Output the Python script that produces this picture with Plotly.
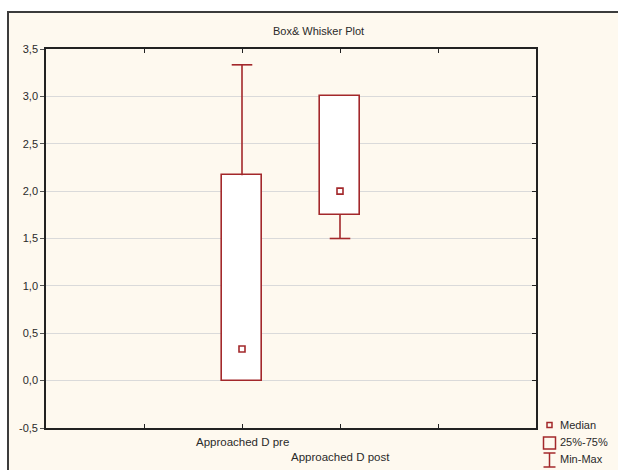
import plotly.graph_objects as go

# ---- data ----
categories = ["Approached D pre", "Approached D post"]
positions = [1, 2]
mins = [0.0, 1.5]
q1s = [0.0, 1.75]
medians = [0.333, 2.0]
q3s = [2.167, 3.0]
maxs = [3.333, 3.0]
ytick_vals = [-0.5, 0.0, 0.5, 1.0, 1.5, 2.0, 2.5, 3.0, 3.5]
ytick_text = ["-0,5", "0,0", "0,5", "1,0", "1,5", "2,0", "2,5", "3,0", "3,5"]
legend_labels = ["Median", "25%-75%", "Min-Max"]
title_text = "Box& Whisker Plot"

RED = "#a3282b"
FONT = "Liberation Sans, Arial, sans-serif"
TXT = "#2a2a2a"

# plot area in pixels
L, R, T, B = 46, 536, 49, 428
W, H = 618, 470

def px(x):
    return (x - L) / (R - L)

def py(y):
    return (B - y) / (B - T)

fig = go.Figure()

# boxes (25%-75%)
fig.add_trace(go.Bar(
    x=positions,
    y=[b - a for a, b in zip(q1s, q3s)],
    base=q1s,
    width=0.4,
    marker=dict(color="white", line=dict(color=RED, width=1.6)),
    showlegend=False,
    hoverinfo="skip",
))

# whiskers built from data (only where they have length)
CAP = 0.105
wx, wy = [], []
for p, lo, a, b, hi in zip(positions, mins, q1s, q3s, maxs):
    if hi > b:
        wx += [p, p, None, p - CAP, p + CAP, None]
        wy += [b, hi, None, hi, hi, None]
    if lo < a:
        wx += [p, p, None, p - CAP, p + CAP, None]
        wy += [a, lo, None, lo, lo, None]
fig.add_trace(go.Scatter(
    x=wx, y=wy, mode="lines",
    line=dict(color=RED, width=1.6),
    showlegend=False, hoverinfo="skip",
))

# medians
fig.add_trace(go.Scatter(
    x=positions, y=medians, mode="markers",
    marker=dict(symbol="square-open", size=6, color=RED, line=dict(width=1.6, color=RED)),
    showlegend=False, hoverinfo="skip",
))

# right-side mirror y axis with inside ticks
fig.add_trace(go.Scatter(x=[None], y=[None], yaxis="y2", showlegend=False))

shapes = []
# cream frame
shapes.append(dict(type="rect", xref="paper", yref="paper", layer="below",
                   x0=px(8), x1=px(640), y0=py(12), y1=py(490),
                   fillcolor="#fef9ef", line=dict(color="#3c3c3c", width=2)))

# legend symbols
lx = 549.5
shapes.append(dict(type="rect", xref="paper", yref="paper",
                   x0=px(lx - 2.5), x1=px(lx + 2.5), y0=py(427.5), y1=py(422.5),
                   line=dict(color=RED, width=1.5), fillcolor="rgba(0,0,0,0)"))
shapes.append(dict(type="rect", xref="paper", yref="paper",
                   x0=px(lx - 6), x1=px(lx + 6), y0=py(449), y1=py(437),
                   line=dict(color=RED, width=1.5), fillcolor="rgba(0,0,0,0)"))
shapes.append(dict(type="line", xref="paper", yref="paper",
                   x0=px(lx), x1=px(lx), y0=py(467), y1=py(453),
                   line=dict(color=RED, width=1.5)))
for yy in (453, 467):
    shapes.append(dict(type="line", xref="paper", yref="paper",
                       x0=px(lx - 6), x1=px(lx + 6), y0=py(yy), y1=py(yy),
                       line=dict(color=RED, width=1.5)))

annotations = []
annotations.append(dict(text=title_text, xref="paper", yref="paper",
                        x=px(318), y=py(31), showarrow=False,
                        xanchor="center", yanchor="middle",
                        font=dict(family=FONT, size=11, color=TXT)))
# category labels (staggered)
cat_y = [442, 457]
for pos, cat, yy in zip(positions, categories, cat_y):
    annotations.append(dict(text=cat, xref="x", yref="paper", x=pos, y=py(yy),
                            showarrow=False, xanchor="center", yanchor="middle",
                            font=dict(family=FONT, size=11.5, color=TXT)))
# legend text
for lab, yy in zip(legend_labels, [425, 442, 459]):
    annotations.append(dict(text=lab, xref="paper", yref="paper", x=px(558), y=py(yy),
                            showarrow=False, xanchor="left", yanchor="middle",
                            font=dict(family=FONT, size=11, color=TXT)))

fig.update_layout(
    width=W, height=H,
    margin=dict(l=L, r=W - R, t=T, b=H - B, pad=0),
    paper_bgcolor="white",
    plot_bgcolor="white",
    showlegend=False,
    bargap=0,
    xaxis=dict(range=[-1, 4], tickvals=[0, 1, 2, 3], showticklabels=False,
               ticks="inside", ticklen=4, tickcolor="#222", tickwidth=1.2,
               showgrid=False, zeroline=False,
               showline=True, linecolor="#222", linewidth=1.6, mirror="ticks"),
    yaxis=dict(range=[-0.5, 3.5], tickvals=ytick_vals, ticktext=ytick_text,
               ticks="outside", ticklen=4, tickcolor="#555", tickwidth=1,
               showgrid=True, gridcolor="#dadada", gridwidth=1, zeroline=False,
               showline=True, linecolor="#222", linewidth=1.6, mirror=True,
               tickfont=dict(family=FONT, size=11, color=TXT)),
    yaxis2=dict(range=[-0.5, 3.5], overlaying="y", side="right",
                tickvals=ytick_vals, showticklabels=False,
                ticks="inside", ticklen=4, tickcolor="#222", tickwidth=1.2,
                showgrid=False, zeroline=False, showline=False),
    shapes=shapes,
    annotations=annotations,
)

fig.write_html("out.html",
               config={"displayModeBar": False},
               post_script="document.body.style.margin='0px';document.body.style.overflow='hidden';")
